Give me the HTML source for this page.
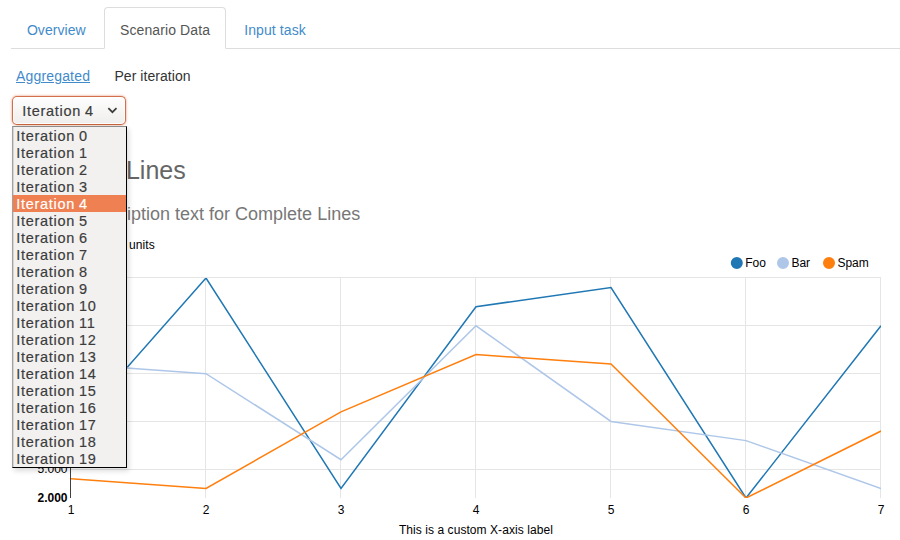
<!DOCTYPE html>
<html><head><meta charset="utf-8">
<style>
*{box-sizing:border-box}
html,body{margin:0;padding:0;background:#fff;}
body{width:900px;height:540px;overflow:hidden;position:relative;font-family:"Liberation Sans",sans-serif;color:#333;}
.abs{position:absolute;white-space:nowrap;}
#tabline{left:11px;top:48px;width:889px;height:1px;background:#ddd;}
#tabactive{left:104px;top:7px;width:122px;height:42px;border:1px solid #ddd;border-bottom:1px solid #fff;border-radius:4px 4px 0 0;background:#fff;}
.tab{font-size:14px;top:20px;line-height:20px;color:#428bca;}
.sub{font-size:14px;top:66px;line-height:20px;}
#sel{left:12px;top:96px;width:114px;height:29px;border:1px solid #d0704c;border-bottom-color:#c5653f;border-radius:5px;background:linear-gradient(#fefefe,#efeeec);box-shadow:0 0 2.5px rgba(225,110,70,.8), inset 0 0 0 1px rgba(255,255,255,.8);}
#seltxt{left:22.2px;top:101px;font-size:14.5px;letter-spacing:.71px;word-spacing:-.8px;line-height:20px;color:#3c3c3c;-webkit-text-stroke:.18px #3c3c3c;}
#list{left:12px;top:126px;width:115px;height:342px;background:#f2f1f0;border:1px solid #000;border-top-color:#8c8c8c;border-left-color:#a0a0a0;box-shadow:2px 3px 5px rgba(0,0,0,.14), inset 1px 0 0 #d6d5d4;}
.opt{position:absolute;left:0;width:113px;height:17px;font-size:14.5px;letter-spacing:.71px;word-spacing:-.8px;line-height:17px;padding-left:3.3px;padding-top:.8px;color:#3c3c3c;white-space:nowrap;-webkit-text-stroke:.18px #3c3c3c;}
.opt.on{background:#ef8052;color:#fff;-webkit-text-stroke:.18px #fff;}
</style></head><body>
<div class="abs" id="tabline"></div>
<div class="abs" id="tabactive"></div>
<div class="abs tab" style="left:26.9px;letter-spacing:.06px">Overview</div>
<div class="abs tab" style="left:120px;color:#555;letter-spacing:.1px">Scenario Data</div>
<div class="abs tab" style="left:244.2px;letter-spacing:.1px">Input task</div>
<div class="abs sub" style="left:16px;color:#428bca;text-decoration:underline;letter-spacing:.17px">Aggregated</div>
<div class="abs sub" style="left:114.4px;color:#333;letter-spacing:.06px">Per iteration</div>

<div class="abs" style="left:12px;top:156px;font-size:25px;line-height:28px;color:#666">Complete Lines</div>
<div class="abs" style="left:31px;top:204px;font-size:18px;line-height:20px;color:#777">Some description text for Complete Lines</div>

<svg class="abs" style="left:0;top:0" width="900" height="540">
<line x1="70" x2="881" y1="277.5" y2="277.5" stroke="#e5e5e5" stroke-width="1" shape-rendering="crispEdges"/>
<line x1="70" x2="881" y1="325.5" y2="325.5" stroke="#e5e5e5" stroke-width="1" shape-rendering="crispEdges"/>
<line x1="70" x2="881" y1="373.5" y2="373.5" stroke="#e5e5e5" stroke-width="1" shape-rendering="crispEdges"/>
<line x1="70" x2="881" y1="421.5" y2="421.5" stroke="#e5e5e5" stroke-width="1" shape-rendering="crispEdges"/>
<line x1="70" x2="881" y1="469.5" y2="469.5" stroke="#e5e5e5" stroke-width="1" shape-rendering="crispEdges"/>
<line x1="205.5" x2="205.5" y1="277" y2="498" stroke="#e5e5e5" stroke-width="1" shape-rendering="crispEdges"/>
<line x1="340.5" x2="340.5" y1="277" y2="498" stroke="#e5e5e5" stroke-width="1" shape-rendering="crispEdges"/>
<line x1="475.5" x2="475.5" y1="277" y2="498" stroke="#e5e5e5" stroke-width="1" shape-rendering="crispEdges"/>
<line x1="610.5" x2="610.5" y1="277" y2="498" stroke="#e5e5e5" stroke-width="1" shape-rendering="crispEdges"/>
<line x1="745.5" x2="745.5" y1="277" y2="498" stroke="#e5e5e5" stroke-width="1" shape-rendering="crispEdges"/>
<line x1="880.5" x2="880.5" y1="277" y2="498" stroke="#e5e5e5" stroke-width="1" shape-rendering="crispEdges"/>
<line x1="70.5" x2="70.5" y1="277" y2="498" stroke="#000" stroke-opacity=".75" stroke-width="1" shape-rendering="crispEdges"/>
<clipPath id="cp"><rect x="71" y="278" width="810" height="220"/></clipPath><g clip-path="url(#cp)">
<path d="M71.00 431.04 L206.00 278.00 L341.00 488.43 L476.00 306.70 L611.00 287.57 L746.00 498.00 L881.00 325.83" fill="none" stroke="#1f77b4" stroke-width="1.5"/>
<path d="M71.00 364.09 L206.00 373.65 L341.00 459.74 L476.00 325.83 L611.00 421.48 L746.00 440.61 L881.00 488.43" fill="none" stroke="#aec7e8" stroke-width="1.5"/>
<path d="M71.00 478.87 L206.00 488.43 L341.00 411.91 L476.00 354.52 L611.00 364.09 L746.00 498.00 L881.00 431.04" fill="none" stroke="#ff7f0e" stroke-width="1.5"/>
</g>
<g font-family="Liberation Sans, sans-serif" font-size="12" fill="#000">
<text x="71.1" y="513.7" text-anchor="middle">1</text>
<text x="206.1" y="513.7" text-anchor="middle">2</text>
<text x="341.1" y="513.7" text-anchor="middle">3</text>
<text x="476.1" y="513.7" text-anchor="middle">4</text>
<text x="611.1" y="513.7" text-anchor="middle">5</text>
<text x="746.1" y="513.7" text-anchor="middle">6</text>
<text x="881.1" y="513.7" text-anchor="middle">7</text>
<text x="67.5" y="501.6" text-anchor="end" font-weight="bold">2.000</text>
<text x="67.5" y="473.4" text-anchor="end">5.000</text>
<text x="475.9" y="533.8" text-anchor="middle" letter-spacing="0.065">This is a custom X-axis label</text>
<text x="128.9" y="249" letter-spacing="0.1">units</text>
<circle cx="736.8" cy="263" r="5" fill="#1f77b4" stroke="#1f77b4" stroke-width="2"/>
<text x="745.2" y="266.8">Foo</text>
<circle cx="783.0" cy="263" r="5" fill="#aec7e8" stroke="#aec7e8" stroke-width="2"/>
<text x="791.4" y="266.8">Bar</text>
<circle cx="829.0" cy="263" r="5" fill="#ff7f0e" stroke="#ff7f0e" stroke-width="2"/>
<text x="837.4" y="266.8">Spam</text>
</g>
</svg>

<div class="abs" id="sel"></div>
<div class="abs" id="seltxt">Iteration 4</div>
<svg class="abs" style="left:105px;top:105px" width="14" height="10"><path d="M3.35 3.2 L7.42 7.2 L11.5 3.2" fill="none" stroke="#3c3c3c" stroke-width="1.7"/></svg>
<div class="abs" id="list">
<div class="opt" style="top:0px">Iteration 0</div>
<div class="opt" style="top:17px">Iteration 1</div>
<div class="opt" style="top:34px">Iteration 2</div>
<div class="opt" style="top:51px">Iteration 3</div>
<div class="opt on" style="top:68px">Iteration 4</div>
<div class="opt" style="top:85px">Iteration 5</div>
<div class="opt" style="top:102px">Iteration 6</div>
<div class="opt" style="top:119px">Iteration 7</div>
<div class="opt" style="top:136px">Iteration 8</div>
<div class="opt" style="top:153px">Iteration 9</div>
<div class="opt" style="top:170px">Iteration 10</div>
<div class="opt" style="top:187px">Iteration 11</div>
<div class="opt" style="top:204px">Iteration 12</div>
<div class="opt" style="top:221px">Iteration 13</div>
<div class="opt" style="top:238px">Iteration 14</div>
<div class="opt" style="top:255px">Iteration 15</div>
<div class="opt" style="top:272px">Iteration 16</div>
<div class="opt" style="top:289px">Iteration 17</div>
<div class="opt" style="top:306px">Iteration 18</div>
<div class="opt" style="top:323px">Iteration 19</div>
</div>
</body></html>
